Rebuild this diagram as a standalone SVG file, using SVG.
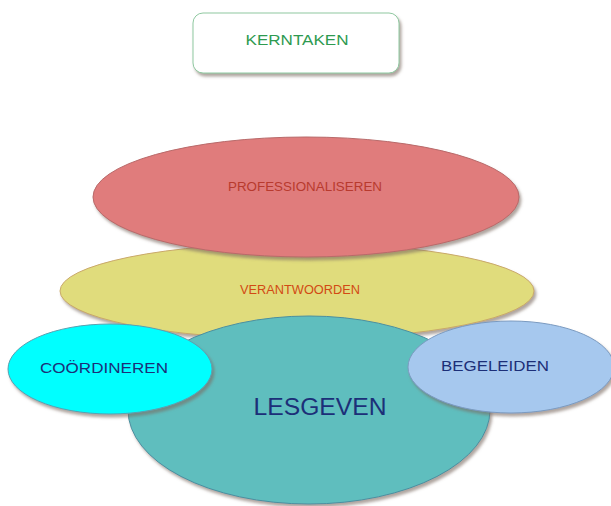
<svg xmlns="http://www.w3.org/2000/svg" width="611" height="506" viewBox="0 0 611 506">
<style>
text{font-family:"Liberation Sans","DejaVu Sans",sans-serif;text-anchor:middle;dominant-baseline:central}
.sh{filter:url(#ds)}
</style>
<defs>
<filter id="ds" x="-10%" y="-10%" width="125%" height="130%">
<feDropShadow dx="2" dy="3" stdDeviation="1.5" flood-color="#7a6a60" flood-opacity="0.6"/>
</filter>
</defs>
<rect width="611" height="506" fill="#ffffff"/>
<g id="kerntaken">
<rect class="sh" x="193" y="13" width="206" height="60" rx="10" fill="#ffffff" stroke="#8fc8a0" stroke-width="1"/>
<text x="297" y="40" font-size="14" fill="#2e9a50" textLength="103" lengthAdjust="spacingAndGlyphs">KERNTAKEN</text>
</g>
<g id="verantwoorden">
<ellipse class="sh" cx="297" cy="291" rx="237" ry="48" fill="#e0dc7c" stroke="#c9a86a" stroke-width="1"/>
<text x="300" y="290" font-size="12" fill="#d24a14" textLength="120" lengthAdjust="spacingAndGlyphs">VERANTWOORDEN</text>
</g>
<g id="professionaliseren">
<ellipse class="sh" cx="306" cy="197" rx="213" ry="60" fill="#e07b7b" stroke="#b86a6a" stroke-width="1"/>
<text x="305" y="187" font-size="12" fill="#b83a2e" textLength="154" lengthAdjust="spacingAndGlyphs">PROFESSIONALISEREN</text>
</g>
<g id="lesgeven">
<ellipse class="sh" cx="309" cy="410" rx="181" ry="94" fill="#5fbebe" stroke="#4a8fa0" stroke-width="1"/>
<text x="320" y="407" font-size="23" fill="#1c2f78" textLength="133" lengthAdjust="spacingAndGlyphs">LESGEVEN</text>
</g>
<g id="coordineren">
<ellipse class="sh" cx="110" cy="369" rx="102" ry="45" fill="#00ffff" stroke="#5aa0b0" stroke-width="1"/>
<text x="104" y="368" font-size="14" fill="#1c2f78" textLength="128" lengthAdjust="spacingAndGlyphs">COÖRDINEREN</text>
</g>
<g id="begeleiden">
<ellipse class="sh" cx="511" cy="367" rx="103" ry="46" fill="#a6c8ee" stroke="#7a9ac0" stroke-width="1"/>
<text x="495" y="366" font-size="14" fill="#1c2f78" textLength="108" lengthAdjust="spacingAndGlyphs">BEGELEIDEN</text>
</g>
<g id="connectors"/>
</svg>
